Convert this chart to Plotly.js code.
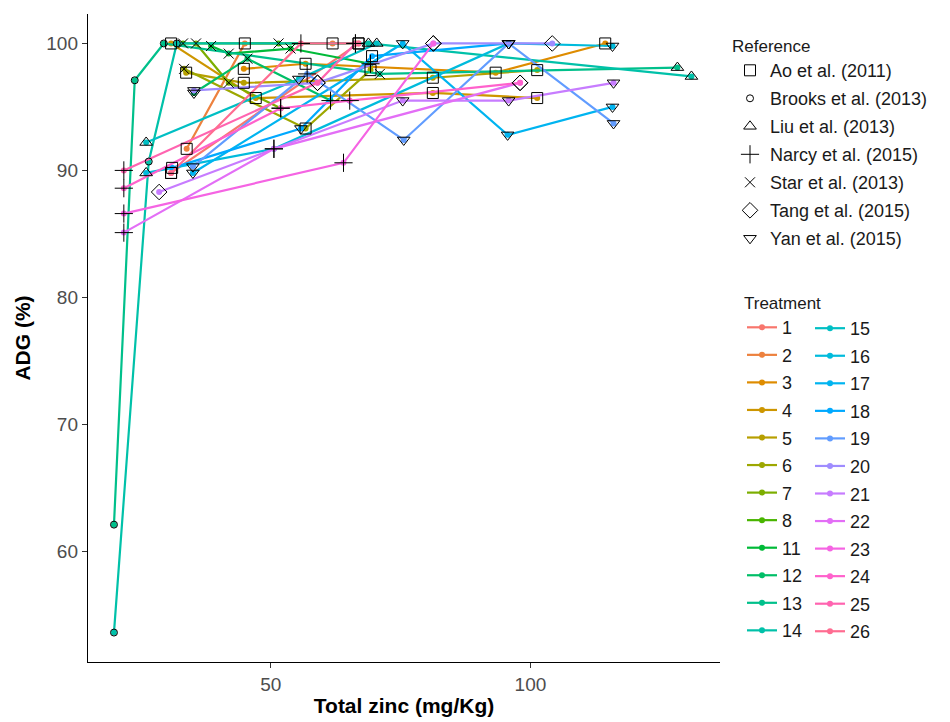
<!DOCTYPE html>
<html>
<head>
<meta charset="utf-8">
<script src="https://cdn.plot.ly/plotly-3.0.1.min.js"></script>
<style>html,body{margin:0;padding:0;background:#fff;}#chart{width:950px;height:722px;}</style>
</head>
<body>
<div id="chart"></div>
<script>
// ---------------- DATA ----------------
const treatments = ['1','2','3','4','5','6','7','8','11','12','13','14','15','16','17','18','19','20','21','22','23','24','25','26'];
const references = ['Ao et al. (2011)','Brooks et al. (2013)','Liu et al. (2013)','Narcy et al. (2015)','Star et al. (2013)','Tang et al. (2015)','Yan et al. (2015)'];

// one entry per observation
const ptTreatment = [
 '1','1',
 '2','2','2',
 '3','3','3','3',
 '4','4','4','4',
 '5','5','5','5',
 '6','6','6',
 '7','7','7',
 '8','8','8',
 '11','11','11','11',
 '12','12','12',
 '13','13','13','13','13',
 '14','14','14','14','14',
 '15','15','15',
 '16','16','16','16',
 '17','17','17','17',
 '18','18','18','18',
 '19','19','19','19','19',
 '20','20','20','20',
 '21','21','21','21',
 '22','22','22',
 '23','23','23',
 '24','24','24','24',
 '25','25','25',
 '26','26','26'
];
const ptReference = [
 'Ao et al. (2011)','Ao et al. (2011)',
 'Ao et al. (2011)','Ao et al. (2011)','Ao et al. (2011)',
 'Ao et al. (2011)','Ao et al. (2011)','Ao et al. (2011)','Ao et al. (2011)',
 'Ao et al. (2011)','Ao et al. (2011)','Ao et al. (2011)','Ao et al. (2011)',
 'Ao et al. (2011)','Ao et al. (2011)','Ao et al. (2011)','Ao et al. (2011)',
 'Star et al. (2013)','Ao et al. (2011)','Ao et al. (2011)',
 'Star et al. (2013)','Star et al. (2013)','Narcy et al. (2015)',
 'Star et al. (2013)','Star et al. (2013)','Narcy et al. (2015)',
 'Star et al. (2013)','Star et al. (2013)','Star et al. (2013)','Narcy et al. (2015)',
 'Yan et al. (2015)','Star et al. (2013)','Narcy et al. (2015)',
 'Brooks et al. (2013)','Brooks et al. (2013)','Brooks et al. (2013)','Star et al. (2013)','Liu et al. (2013)',
 'Brooks et al. (2013)','Brooks et al. (2013)','Brooks et al. (2013)','Liu et al. (2013)','Liu et al. (2013)',
 'Liu et al. (2013)','Yan et al. (2015)','Liu et al. (2013)',
 'Liu et al. (2013)','Narcy et al. (2015)','Yan et al. (2015)','Yan et al. (2015)',
 'Yan et al. (2015)','Yan et al. (2015)','Yan et al. (2015)','Yan et al. (2015)',
 'Ao et al. (2011)','Yan et al. (2015)','Ao et al. (2011)','Yan et al. (2015)',
 'Yan et al. (2015)','Narcy et al. (2015)','Yan et al. (2015)','Yan et al. (2015)','Yan et al. (2015)',
 'Yan et al. (2015)','Tang et al. (2015)','Tang et al. (2015)','Tang et al. (2015)',
 'Tang et al. (2015)','Yan et al. (2015)','Yan et al. (2015)','Yan et al. (2015)',
 'Narcy et al. (2015)','Narcy et al. (2015)','Tang et al. (2015)',
 'Narcy et al. (2015)','Narcy et al. (2015)','Tang et al. (2015)',
 'Narcy et al. (2015)','Narcy et al. (2015)','Narcy et al. (2015)','Tang et al. (2015)',
 'Narcy et al. (2015)','Tang et al. (2015)','Narcy et al. (2015)',
 'Ao et al. (2011)','Narcy et al. (2015)','Ao et al. (2011)'
];
const ptZinc = [
 30.8,66.9,
 33.8,45.0,61.9,
 44.8,56.7,93.3,114.4,
 30.8,47.1,81.2,101.3,
 33.7,44.8,81.2,101.3,
 33.3,56.7,69.2,
 35.6,41.9,51.9,
 33.1,51.5,66.3,
 38.5,41.9,53.8,69.2,
 35.2,45.5,61.5,
 19.8,23.8,29.4,71.0,128.3,
 19.8,26.5,31.9,68.8,131.0,
 26.0,55.4,70.4,
 26.0,50.6,95.8,115.8,
 35.0,75.4,95.6,115.8,
 31.0,55.8,69.5,95.8,
 35.0,57.0,75.6,95.8,116.0,
 35.2,59.0,81.3,104.2,
 28.5,75.4,95.8,116.0,
 21.7,50.6,98.0,
 21.7,64.0,81.3,
 21.7,51.9,65.2,98.0,
 21.7,59.0,66.3,
 30.8,55.8,66.9
];
const ptADG = [
 89.8,100,
 91.7,100,100,
 98.0,98.4,97.7,100,
 100,95.7,96.1,95.7,
 97.7,96.9,97.3,97.9,
 98.0,93.3,97.9,
 100,96.9,94.9,
 100,100,100,
 99.8,99.2,99.6,98.4,
 96.1,98.8,95.5,
 62.1,97.1,100,97.6,98.1,
 53.6,90.7,100,100,97.4,
 92.2,97.2,100,
 89.8,91.7,100,99.8,
 89.8,100,92.8,95.0,
 90.2,93.3,99.0,100,
 90.3,97.6,92.4,100,93.7,
 96.3,96.9,100,100,
 88.3,95.5,95.5,96.9,
 85.1,91.7,96.9,
 86.6,90.6,100,
 88.6,94.9,95.5,96.9,
 90.0,96.9,100,
 89.8,100,100
];

// ---------------- STYLE HELPERS ----------------
function hcl(h, c, l) {
  const Xn = 95.047, Yn = 100.0, Zn = 108.883;
  const hr = h * Math.PI / 180;
  const U = c * Math.cos(hr), V = c * Math.sin(hr);
  const Y = l > 7.999592 ? Yn * Math.pow((l + 16) / 116, 3) : Yn * l / 903.3;
  const den = Xn + 15 * Yn + 3 * Zn;
  const un = 4 * Xn / den, vn = 9 * Yn / den;
  const u = U / (13 * l) + un, v = V / (13 * l) + vn;
  const X = 9.0 * Y * u / (4 * v);
  const Z = -X / 3 - 5 * Y + 3 * Y / v;
  const x = X / 100, y = Y / 100, z = Z / 100;
  let rgb = [
    3.240479 * x - 1.537150 * y - 0.498535 * z,
   -0.969256 * x + 1.875992 * y + 0.041556 * z,
    0.055648 * x - 0.204043 * y + 1.057311 * z
  ];
  rgb = rgb.map(t => {
    t = t <= 0.0031308 ? 12.92 * t : 1.055 * Math.pow(t, 1 / 2.4) - 0.055;
    return Math.round(255 * Math.min(1, Math.max(0, t)));
  });
  return 'rgb(' + rgb.join(',') + ')';
}
const nT = treatments.length;
const tColors = treatments.map((t, i) => hcl(15 + 360 / nT * i, 100, 65));

const refSymbols = ['square-open','circle-open','triangle-up-open','cross-thin-open','x-thin-open','diamond-open','triangle-down-open'];
const refSizes = [11, 7, 11, 13, 10, 12, 11];

const FONT = 'Liberation Sans, Arial, sans-serif';
const traces = [];

treatments.forEach((t, i) => {
  const idx = [];
  ptTreatment.forEach((pt, k) => { if (pt === t) idx.push(k); });
  idx.sort((a, b) => ptZinc[a] - ptZinc[b]);
  traces.push({
    type: 'scatter', mode: 'lines+markers', name: t,
    x: idx.map(k => ptZinc[k]), y: idx.map(k => ptADG[k]),
    line: { color: tColors[i], width: 2.2 },
    marker: { color: tColors[i], size: 6 },
    legend: i < 12 ? 'legend2' : 'legend3',
    legendgroup: 'T' + t, showlegend: true, hoverinfo: 'x+y+name'
  });
});

references.forEach((r, j) => {
  const idx = [];
  ptReference.forEach((pr, k) => { if (pr === r) idx.push(k); });
  traces.push({
    type: 'scatter', mode: 'markers', name: r,
    x: idx.map(k => ptZinc[k]), y: idx.map(k => ptADG[k]),
    marker: { symbol: refSymbols[j], size: refSizes[j], color: 'black', line: { color: 'black', width: 1 } },
    legend: 'legend', legendgroup: 'R' + j, showlegend: true
  });
});

const legendCommon = {
  bgcolor: 'rgba(0,0,0,0)', borderwidth: 0,
  font: { family: FONT, size: 18, color: '#1a1a1a' },
  xref: 'container', yref: 'container', xanchor: 'left', yanchor: 'top',
  traceorder: 'grouped', itemclick: false, itemdoubleclick: false
};

const layout = {
  width: 950, height: 722,
  paper_bgcolor: '#ffffff', plot_bgcolor: '#ffffff',
  margin: { l: 88, r: 230, t: 14, b: 60 },
  font: { family: FONT, color: '#4D4D4D' },
  xaxis: {
    range: [14.8, 136.5], tickvals: [50, 100], ticktext: ['50', '100'],
    showgrid: false, zeroline: false, showline: true, linecolor: '#000', linewidth: 1.2,
    ticks: 'outside', ticklen: 5, tickcolor: '#333', tickwidth: 1.2,
    tickfont: { family: FONT, size: 19, color: '#4D4D4D' },
    title: { text: '<b>Total zinc (mg/Kg)</b>', font: { family: FONT, size: 21, color: '#000' }, standoff: 4 }
  },
  yaxis: {
    range: [51.28, 102.32], tickvals: [60, 70, 80, 90, 100],
    showgrid: false, zeroline: false, showline: true, linecolor: '#000', linewidth: 1.2,
    ticks: 'outside', ticklen: 5, tickcolor: '#333', tickwidth: 1.2,
    tickfont: { family: FONT, size: 19, color: '#4D4D4D' },
    title: { text: '<b>ADG (%)</b>', font: { family: FONT, size: 21, color: '#000' }, standoff: 10 }
  },
  legend: Object.assign({}, legendCommon, {
    x: 730 / 950, y: 1 - 30 / 722, tracegroupgap: 1.6,
    title: { text: 'Reference', font: { family: FONT, size: 17, color: '#1a1a1a' } }
  }),
  legend2: Object.assign({}, legendCommon, {
    x: 742 / 950, y: 1 - 287 / 722, tracegroupgap: 1.15, itemwidth: 30,
    title: { text: 'Treatment', font: { family: FONT, size: 17, color: '#1a1a1a' } }
  }),
  legend3: Object.assign({}, legendCommon, {
    x: 810 / 950, y: 1 - 310 / 722, tracegroupgap: 1.15, itemwidth: 30
  }),
  showlegend: true
};

Plotly.newPlot('chart', traces, layout, { displayModeBar: false, staticPlot: true });
</script>
</body>
</html>
